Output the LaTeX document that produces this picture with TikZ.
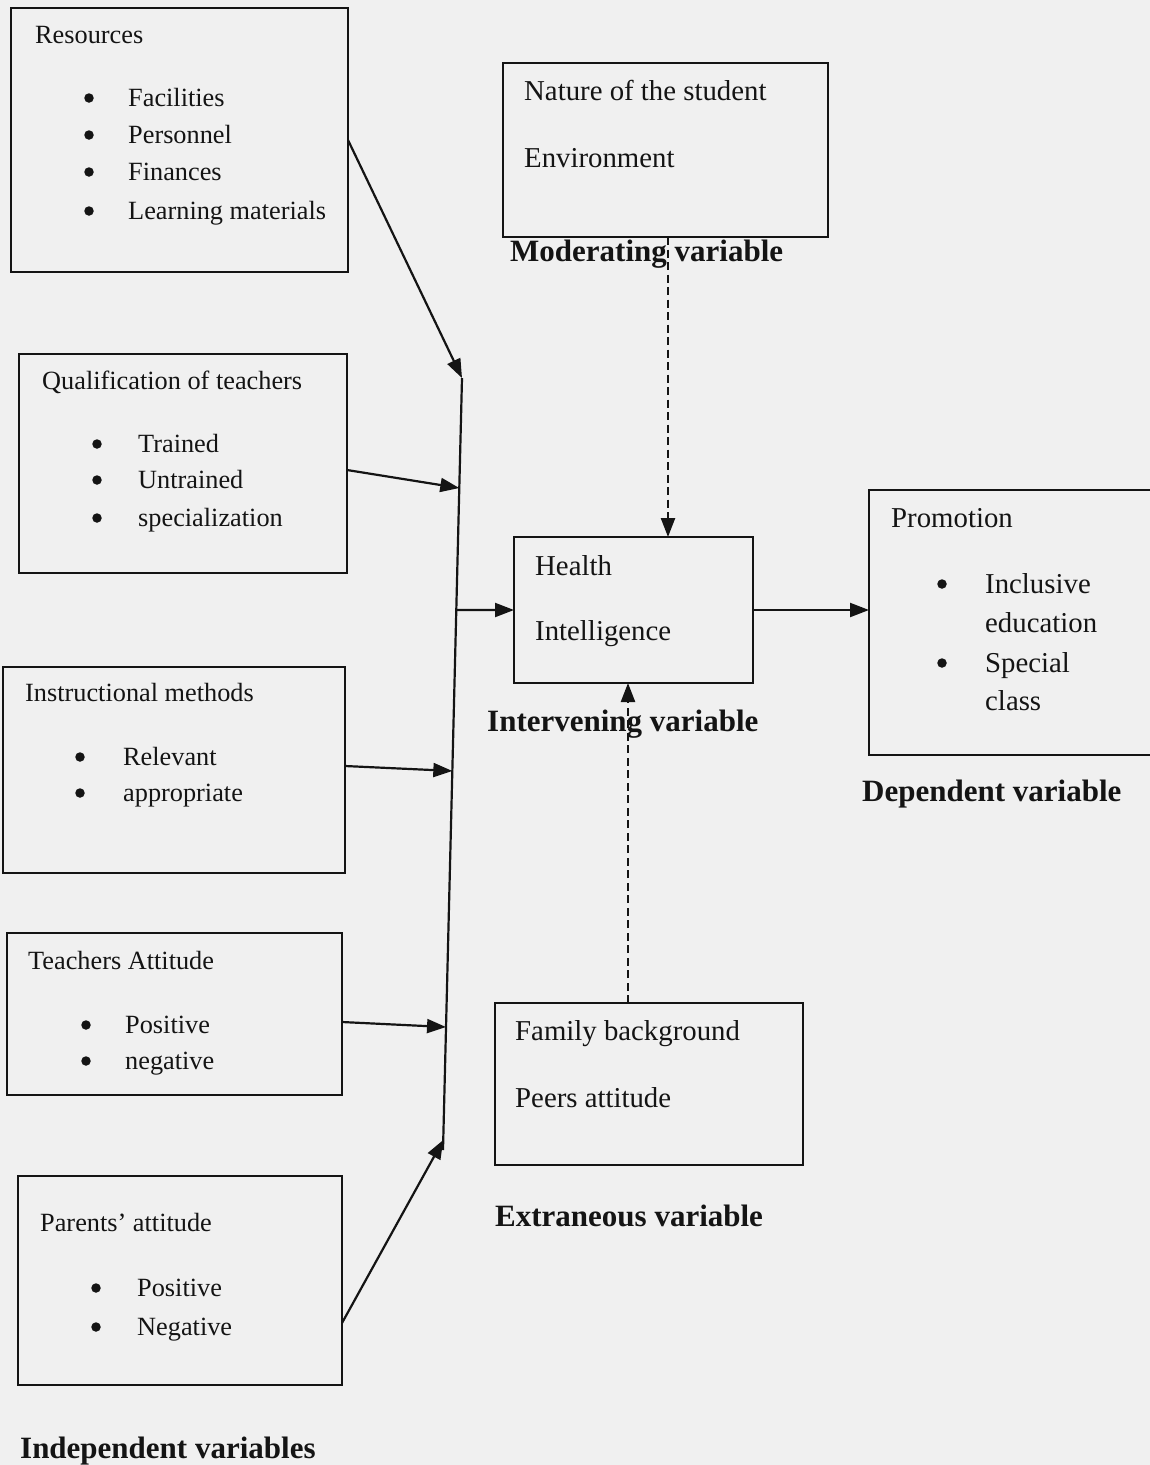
\documentclass[tikz,border=0pt]{standalone}
\usepackage{fontspec}
\setmainfont{Liberation Serif}
\usetikzlibrary{arrows.meta,calc}
\definecolor{bgcol}{RGB}{240,240,240}
\definecolor{ink}{RGB}{20,20,20}
\newcommand\lfnt{\fontsize{26.3}{30}\selectfont}
\newcommand\rfnt{\fontsize{28.8}{33}\selectfont}
\newcommand\bfnt{\fontsize{31}{36}\selectfont\bfseries}
\begin{document}
\begin{tikzpicture}[x=1pt,y=-1pt, every node/.style={text=ink},
  box/.style={draw=ink, line width=2.4pt, inner sep=0pt, outer sep=0pt, anchor=north west},
  ltxt/.style={anchor=base west, inner sep=0pt, font=\lfnt},
  rtxt/.style={anchor=base west, inner sep=0pt, font=\rfnt},
  btxt/.style={anchor=base west, inner sep=0pt, font=\bfnt},
  bul/.style={circle, fill=ink, inner sep=0pt, minimum size=9.5pt},
  conn/.style={draw=ink, line width=2.2pt},
  arr/.style={draw=ink, line width=2.2pt, -{Triangle[length=19pt,width=14pt]}},
  dasharr/.style={draw=ink, line width=2.4pt, dash pattern=on 8pt off 4.5pt, -{Triangle[length=19pt,width=14pt]}}
]
\useasboundingbox (0,0) rectangle (1150,1465);
\fill[bgcol] (0,0) rectangle (1150,1465);

% boxes
\node[box, minimum width=337pt, minimum height=264pt] (res) at (11,8) {};
\node[box, minimum width=328pt, minimum height=219pt] (qual) at (19,354) {};
\node[box, minimum width=342pt, minimum height=206pt] (ins) at (3,667) {};
\node[box, minimum width=335pt, minimum height=162pt] (tea) at (7,933) {};
\node[box, minimum width=324pt, minimum height=209pt] (par) at (18,1176) {};
\node[box, minimum width=325pt, minimum height=174pt] (nat) at (503,63) {};
\node[box, minimum width=239pt, minimum height=146pt] (hea) at (514,537) {};
\node[box, draw=none, minimum width=281pt, minimum height=265pt] (pro) at (869,490) {};
\draw[ink, line width=2.4pt] (pro.north east) -- (pro.north west) -- (pro.south west) -- (pro.south east);
\node[box, minimum width=308pt, minimum height=162pt] (fam) at (495,1003) {};

% Resources
\node[ltxt] (t1) at (35,43) {Resources};
\node[bul] (b1a) at (89,98) {}; \node[ltxt] (t1a) at (128,106) {Facilities};
\node[bul] (b1b) at (89,135) {}; \node[ltxt] (t1b) at (128,143) {Personnel};
\node[bul] (b1c) at (89,172) {}; \node[ltxt] (t1c) at (128,180) {Finances};
\node[bul] (b1d) at (89,211) {}; \node[ltxt] (t1d) at (128,219) {Learning materials};

% Qualification
\node[ltxt] (t2) at (42,389) {Qualification of teachers};
\node[bul] (b2a) at (97,444) {}; \node[ltxt] (t2a) at (138,452) {Trained};
\node[bul] (b2b) at (97,480) {}; \node[ltxt] (t2b) at (138,488) {Untrained};
\node[bul] (b2c) at (97,518) {}; \node[ltxt] (t2c) at (138,526) {specialization};

% Instructional
\node[ltxt] (t3) at (25,701) {Instructional methods};
\node[bul] (b3a) at (80,757) {}; \node[ltxt] (t3a) at (123,765) {Relevant};
\node[bul] (b3b) at (80,793) {}; \node[ltxt] (t3b) at (123,801) {appropriate};

% Teachers
\node[ltxt] (t4) at (28,969) {Teachers Attitude};
\node[bul] (b4a) at (86,1025) {}; \node[ltxt] (t4a) at (125,1033) {Positive};
\node[bul] (b4b) at (86,1061) {}; \node[ltxt] (t4b) at (125,1069) {negative};

% Parents
\node[ltxt] (t5) at (40,1231) {Parents’ attitude};
\node[bul] (b5a) at (96,1288) {}; \node[ltxt] (t5a) at (137,1296) {Positive};
\node[bul] (b5b) at (96,1327) {}; \node[ltxt] (t5b) at (137,1335) {Negative};

% Nature
\node[rtxt] (t6a) at (524,100) {Nature of the student};
\node[rtxt] (t6b) at (524,167) {Environment};
\node[btxt] (l6) at (510,261) {Moderating variable};

% Health
\node[rtxt] (t7a) at (535,575) {Health};
\node[rtxt] (t7b) at (535,640) {Intelligence};
\node[btxt] (l7) at (487,731) {Intervening variable};

% Promotion
\node[rtxt] (t8) at (891,527) {Promotion};
\node[bul] (b8a) at (942,584) {}; \node[rtxt] (t8a) at (985,593) {Inclusive};
\node[rtxt] (t8b) at (985,632) {education};
\node[bul] (b8c) at (942,663) {}; \node[rtxt] (t8c) at (985,672) {Special};
\node[rtxt] (t8d) at (985,710) {class};
\node[btxt] (l8) at (862,801) {Dependent variable};

% Family
\node[rtxt] (t9a) at (515,1040) {Family background};
\node[rtxt] (t9b) at (515,1107) {Peers attitude};
\node[btxt] (l9) at (495,1226) {Extraneous variable};

\node[btxt] (l10) at (20,1458) {Independent variables};

% trunk
\coordinate (tT) at (462,378);
\coordinate (tB) at (443,1150);
\draw[conn] (tT) -- (tB);

\draw[arr] (res.east) -- (tT);
\draw[arr] ($(qual.east)+(0,6.5)$) -- ($(tT)!0.1425!(tB)$);
\draw[arr] ($(ins.east)+(0,-4)$) -- ($(tT)!0.509!(tB)$);
\draw[arr] ($(tea.east)+(0,8)$) -- ($(tT)!0.8407!(tB)$);
\draw[arr] ($(par.east)+(0,42.5)$) -- ($(tT)!0.987!(tB)$);
\draw[arr] ($(tT)!0.3005!(tB)$) -- (hea.west);
\draw[arr] (hea.east) -- (hea.east -| pro.west);

% dashed moderating / extraneous
\coordinate (m1) at ($(nat.south west)+(165,0)$);
\draw[dasharr] (m1) -- (m1 |- hea.north);
\coordinate (e1) at ($(fam.north west)+(133,0)$);
\draw[dasharr] (e1) -- (e1 |- hea.south);
\end{tikzpicture}
\end{document}
